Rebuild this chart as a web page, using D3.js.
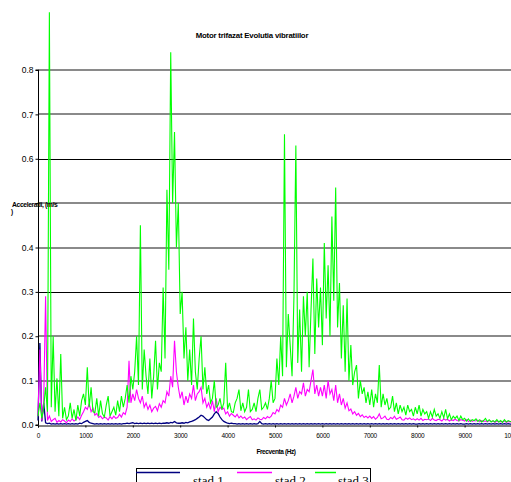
<!DOCTYPE html>
<html>
<head>
<meta charset="utf-8">
<script src="https://cdn.jsdelivr.net/npm/d3@7"></script>
<style>
  html, body { margin:0; padding:0; background:#fff; }
  svg { display:block; }
  .ax text { font-family: Arial, "Liberation Sans", sans-serif; fill:#000; }
  .leg text { font-family: "Times New Roman", "Liberation Serif", serif; font-size:13px; fill:#000; }
</style>
</head>
<body>
<div id="chart"></div>
<script>
;(() => {
// spectre măsurate, un punct la fiecare 40 Hz (0 ... 10000 Hz)
const FREQ_STEP = 40;
const seriesNames = ["stad 1", "stad 2", "stad 3"];
const seriesColors = ["#000080", "#ff00ff", "#00ff00"];
const yTicks = [0.0, 0.1, 0.2, 0.3, 0.4, 0.5, 0.6, 0.7, 0.8];
const xTicks = [0, 1000, 2000, 3000, 4000, 5000, 6000, 7000, 8000, 9000, 10000];

const stad1 = [
  0.01, 0.185, 0.008, 0.05, 0.005, 0.003, 0.004, 0.002, 0.003, 0.002, 0.003, 0.002, 0.003, 0.002, 0.003, 0.002, 0.003, 0.002, 0.003, 0.002, 0.003, 0.002, 0.004, 0.003, 0.006,
  0.008, 0.01, 0.006, 0.004, 0.003, 0.002, 0.003, 0.002, 0.003, 0.002, 0.003, 0.002, 0.003, 0.002, 0.003, 0.002, 0.003, 0.002, 0.003, 0.002, 0.003, 0.003, 0.004, 0.003, 0.004,
  0.005, 0.003, 0.004, 0.003, 0.004, 0.003, 0.004, 0.003, 0.004, 0.003, 0.004, 0.003, 0.004, 0.003, 0.004, 0.003, 0.004, 0.004, 0.005, 0.004, 0.006, 0.005, 0.008, 0.005, 0.004,
  0.004, 0.005, 0.004, 0.006, 0.005, 0.007, 0.008, 0.01, 0.012, 0.015, 0.018, 0.022, 0.02, 0.016, 0.012, 0.01, 0.014, 0.018, 0.025, 0.03, 0.026, 0.018, 0.012, 0.008, 0.006,
  0.004, 0.003, 0.004, 0.003, 0.003, 0.002, 0.003, 0.002, 0.003, 0.002, 0.003, 0.002, 0.003, 0.002, 0.003, 0.002, 0.003, 0.008, 0.003, 0.002, 0.003, 0.002, 0.003, 0.002, 0.003,
  0.002, 0.003, 0.002, 0.003, 0.002, 0.003, 0.002, 0.003, 0.002, 0.003, 0.002, 0.003, 0.002, 0.003, 0.002, 0.003, 0.002, 0.003, 0.002, 0.003, 0.002, 0.003, 0.002, 0.003, 0.002,
  0.003, 0.002, 0.003, 0.002, 0.003, 0.002, 0.003, 0.002, 0.003, 0.002, 0.003, 0.002, 0.003, 0.002, 0.003, 0.002, 0.003, 0.002, 0.003, 0.002, 0.003, 0.002, 0.003, 0.002, 0.003,
  0.002, 0.003, 0.002, 0.003, 0.002, 0.003, 0.002, 0.003, 0.002, 0.003, 0.002, 0.003, 0.002, 0.003, 0.002, 0.003, 0.002, 0.003, 0.002, 0.003, 0.002, 0.003, 0.002, 0.003, 0.002,
  0.002, 0.003, 0.002, 0.003, 0.002, 0.003, 0.002, 0.003, 0.002, 0.003, 0.002, 0.003, 0.002, 0.003, 0.002, 0.003, 0.002, 0.003, 0.002, 0.003, 0.002, 0.003, 0.002, 0.003, 0.002,
  0.002, 0.003, 0.002, 0.003, 0.002, 0.003, 0.002, 0.003, 0.002, 0.003, 0.002, 0.003, 0.002, 0.003, 0.002, 0.003, 0.002, 0.003, 0.002, 0.003, 0.002, 0.003, 0.002, 0.003, 0.002,
  0.002
];

const stad2 = [
  0.02, 0.17, 0.01, 0.05, 0.29, 0.01, 0.02, 0.008, 0.012, 0.015, 0.006, 0.01, 0.007, 0.012, 0.009, 0.005, 0.011, 0.008, 0.014, 0.009, 0.012, 0.018, 0.012, 0.022, 0.03,
  0.04, 0.035, 0.048, 0.03, 0.038, 0.022, 0.026, 0.017, 0.02, 0.014, 0.018, 0.016, 0.011, 0.019, 0.014, 0.02, 0.015, 0.017, 0.024, 0.018, 0.028, 0.024, 0.04, 0.145, 0.05,
  0.07, 0.055, 0.08, 0.06, 0.05, 0.065, 0.04, 0.05, 0.035, 0.045, 0.03, 0.038, 0.042, 0.032, 0.048, 0.04, 0.055, 0.05, 0.075, 0.065, 0.11, 0.085, 0.19, 0.12, 0.085,
  0.06, 0.075, 0.045, 0.065, 0.05, 0.07, 0.06, 0.09, 0.055, 0.07, 0.075, 0.085, 0.05, 0.06, 0.04, 0.05, 0.035, 0.055, 0.03, 0.06, 0.03, 0.04, 0.035, 0.038, 0.025,
  0.03, 0.02, 0.026, 0.022, 0.018, 0.024, 0.016, 0.02, 0.015, 0.018, 0.012, 0.016, 0.019, 0.012, 0.014, 0.011, 0.016, 0.013, 0.012, 0.017, 0.014, 0.019, 0.016, 0.02, 0.028,
  0.025, 0.035, 0.03, 0.045, 0.04, 0.06, 0.045, 0.055, 0.07, 0.05, 0.065, 0.085, 0.06, 0.075, 0.07, 0.095, 0.065, 0.08, 0.075, 0.1, 0.125, 0.07, 0.09, 0.065, 0.085,
  0.065, 0.09, 0.06, 0.1, 0.07, 0.08, 0.055, 0.09, 0.05, 0.07, 0.045, 0.06, 0.038, 0.05, 0.032, 0.036, 0.025, 0.03, 0.022, 0.026, 0.019, 0.023, 0.017, 0.02, 0.016,
  0.02, 0.015, 0.019, 0.013, 0.017, 0.025, 0.014, 0.016, 0.02, 0.013, 0.012, 0.017, 0.014, 0.02, 0.013, 0.015, 0.018, 0.012, 0.011, 0.016, 0.013, 0.016, 0.012, 0.014, 0.011,
  0.014, 0.011, 0.015, 0.01, 0.013, 0.012, 0.014, 0.01, 0.015, 0.011, 0.01, 0.013, 0.012, 0.009, 0.014, 0.011, 0.013, 0.009, 0.012, 0.01, 0.013, 0.01, 0.009, 0.012, 0.011,
  0.009, 0.012, 0.008, 0.011, 0.008, 0.01, 0.009, 0.011, 0.007, 0.01, 0.008, 0.009, 0.007, 0.01, 0.008, 0.009, 0.006, 0.009, 0.007, 0.008, 0.007, 0.009, 0.006, 0.008, 0.007,
  0.007
];

const stad3 = [
  0.02, 0.05, 0.015, 0.04, 0.085, 0.03, 0.93, 0.04, 0.2, 0.03, 0.105, 0.02, 0.16, 0.015, 0.04, 0.012, 0.02, 0.05, 0.015, 0.035, 0.01, 0.045, 0.02, 0.055, 0.07,
  0.045, 0.13, 0.04, 0.085, 0.03, 0.028, 0.06, 0.02, 0.055, 0.025, 0.018, 0.045, 0.065, 0.02, 0.03, 0.04, 0.022, 0.055, 0.03, 0.065, 0.04, 0.06, 0.09, 0.05, 0.11,
  0.08, 0.12, 0.2, 0.09, 0.45, 0.08, 0.17, 0.11, 0.07, 0.15, 0.06, 0.11, 0.19, 0.08, 0.14, 0.12, 0.31, 0.15, 0.53, 0.35, 0.84, 0.5, 0.66, 0.4, 0.5,
  0.25, 0.3, 0.15, 0.22, 0.1, 0.17, 0.09, 0.24, 0.12, 0.08, 0.15, 0.2, 0.08, 0.13, 0.07, 0.09, 0.05, 0.06, 0.1, 0.04, 0.045, 0.06, 0.035, 0.05, 0.14,
  0.035, 0.05, 0.03, 0.028, 0.05, 0.06, 0.08, 0.032, 0.05, 0.03, 0.04, 0.08, 0.03, 0.035, 0.05, 0.03, 0.06, 0.08, 0.035, 0.04, 0.05, 0.035, 0.06, 0.1, 0.05,
  0.06, 0.15, 0.09, 0.2, 0.11, 0.655, 0.13, 0.25, 0.18, 0.11, 0.29, 0.63, 0.14, 0.26, 0.12, 0.29, 0.2, 0.3, 0.13, 0.26, 0.375, 0.16, 0.33, 0.22, 0.31,
  0.18, 0.41, 0.24, 0.36, 0.2, 0.47, 0.28, 0.535, 0.22, 0.32, 0.15, 0.27, 0.12, 0.285, 0.1, 0.18, 0.09, 0.12, 0.135, 0.06, 0.1, 0.07, 0.085, 0.05, 0.075,
  0.045, 0.08, 0.04, 0.07, 0.05, 0.135, 0.04, 0.07, 0.045, 0.06, 0.035, 0.04, 0.065, 0.03, 0.05, 0.025, 0.045, 0.03, 0.04, 0.022, 0.045, 0.03, 0.035, 0.02, 0.04,
  0.025, 0.045, 0.02, 0.035, 0.025, 0.03, 0.015, 0.03, 0.018, 0.035, 0.02, 0.025, 0.015, 0.03, 0.016, 0.035, 0.014, 0.025, 0.012, 0.02, 0.015, 0.02, 0.01, 0.02, 0.012,
  0.015, 0.009, 0.014, 0.008, 0.012, 0.01, 0.014, 0.008, 0.012, 0.007, 0.01, 0.015, 0.008, 0.012, 0.007, 0.01, 0.007, 0.012, 0.007, 0.01, 0.006, 0.012, 0.007, 0.01, 0.008,
  0.008
];

window.addEventListener("DOMContentLoaded", () => {
  const W = 511, H = 482;
  const svg = d3.select("#chart").append("svg")
    .attr("width", W).attr("height", H);

  // zona de desen (axa Y doar până la 0.8, vârful de la 250 Hz iese peste)
  const x = d3.scaleLinear().domain([0, 10000]).range([38, 512]);
  const y = d3.scaleLinear().domain([0, 0.8]).range([425, 70]);

  // grila orizontală
  const darkGrid = new Set([0.3, 0.6]);
  const gy0 = d => darkGrid.has(d) ? Math.round(y(d)) + 0.5 : Math.round(y(d));
  svg.append("g")
    .selectAll("line")
    .data(yTicks.filter(t => t > 0))
    .join("line")
    .attr("x1", 38).attr("x2", W)
    .attr("y1", gy0).attr("y2", gy0)
    .attr("stroke", d => darkGrid.has(d) ? "#000" : "#8a8a8a")
    .attr("stroke-width", d => darkGrid.has(d) ? 1 : 2);

  // axe (eticheta 0.5 e acoperită de titlul axei Y în original)
  const gy = svg.append("g").attr("class", "ax")
    .attr("transform", "translate(38.5,0)")
    .call(d3.axisLeft(y).tickValues(yTicks)
      .tickFormat(d => d === 0.5 ? "" : d3.format(".1f")(d))
      .tickSize(3).tickPadding(2));
  gy.selectAll("text").style("font-size", "8.5px");
  gy.selectAll("line, path").attr("stroke", "#000");
  gy.select(".domain").attr("d", `M-3,${y(0.8)}H0V${y(0)}H-3`);

  const gx = svg.append("g").attr("class", "ax")
    .attr("transform", "translate(0,425.5)")
    .call(d3.axisBottom(x).tickValues(xTicks).tickFormat(d3.format("d")).tickSize(2).tickPadding(6));
  gx.selectAll("text").style("font-size", "6.5px").style("letter-spacing", "-0.3px");
  gx.selectAll("line, path").attr("stroke", "#000");

  // serii
  const line = d3.line()
    .x((d, i) => x(i * FREQ_STEP))
    .y(d => y(d));

  [stad1, stad2, stad3].forEach((s, k) => {
    svg.append("path")
      .datum(s)
      .attr("fill", "none")
      .attr("stroke", seriesColors[k])
      .attr("stroke-width", k === 0 ? 1.3 : 1.1)
      .attr("stroke-linejoin", "miter")
      .attr("d", line);
  });

  // titlu + etichete axe
  svg.append("text")
    .attr("x", 252).attr("y", 38)
    .attr("text-anchor", "middle")
    .style("font-family", "Arial, sans-serif")
    .style("font-weight", "bold")
    .style("font-size", "7.8px")
    .style("letter-spacing", "-0.2px")
    .text("Motor trifazat  Evolutia vibratiilor");

  svg.append("text")
    .attr("x", 12).attr("y", 207)
    .style("font-family", "Arial, sans-serif")
    .style("font-weight", "bold")
    .style("font-size", "6.8px")
    .style("letter-spacing", "-0.4px")
    .text("Acceleratii, (m/s");
  svg.append("text")
    .attr("x", 11).attr("y", 214)
    .style("font-family", "Arial, sans-serif")
    .style("font-weight", "bold")
    .style("font-size", "6.5px")
    .text(")");

  svg.append("text")
    .attr("x", 276).attr("y", 454)
    .attr("text-anchor", "middle")
    .style("font-family", "Arial, sans-serif")
    .style("font-weight", "bold")
    .style("font-size", "6.5px")
    .style("letter-spacing", "-0.4px")
    .text("Frecventa (Hz)");

  // legenda (tăiată jos, ca în original)
  const leg = svg.append("g").attr("class", "leg");
  leg.append("rect")
    .attr("x", 136.5).attr("y", 468.5)
    .attr("width", 234).attr("height", 30)
    .attr("fill", "#fff").attr("stroke", "#000");
  const legItems = [
    { x1: 136, x2: 180, tx: 193 },
    { x1: 237, x2: 272, tx: 275 },
    { x1: 315, x2: 336, tx: 338 }
  ];
  legItems.forEach((p, k) => {
    leg.append("line")
      .attr("x1", p.x1).attr("x2", p.x2)
      .attr("y1", 472.5).attr("y2", 472.5)
      .attr("stroke", seriesColors[k]).attr("stroke-width", 1.5);
    leg.append("text")
      .attr("x", p.tx).attr("y", 485)
      .text(seriesNames[k]);
  });
});
})();
</script>
</body>
</html>
